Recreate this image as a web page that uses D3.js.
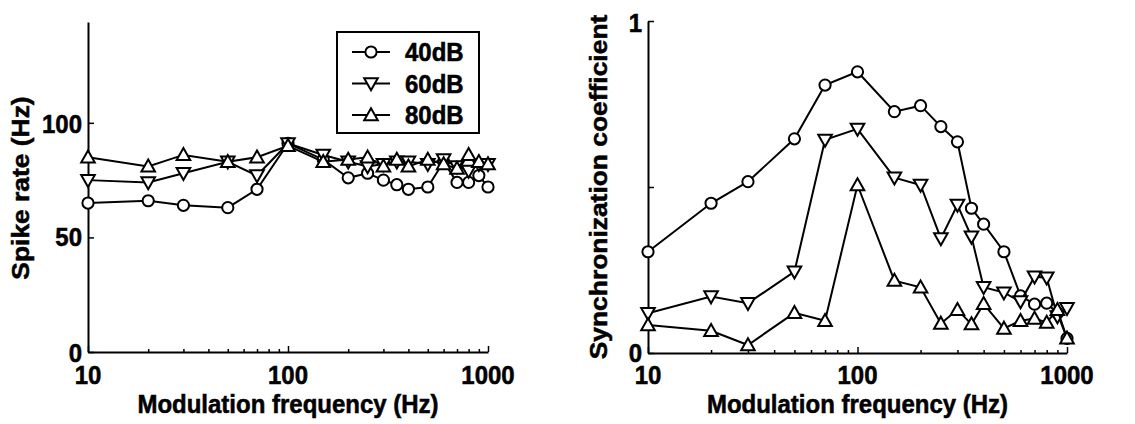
<!DOCTYPE html>
<html><head><meta charset="utf-8">
<script src="https://cdn.jsdelivr.net/npm/d3@7"></script>
<style>
html,body{margin:0;padding:0;background:#fff;}
svg text{font-family:"Liberation Sans",Arial,Helvetica,sans-serif;font-weight:bold;fill:#000;stroke:#000;stroke-width:0.5px;}
</style></head>
<body>
<svg id="c" width="1135" height="424"></svg>
<script>
const freqs = [10,20,30,50,70,100,150,200,250,300,350,400,500,600,700,800,900,1000];
const seriesNames = ["40dB","60dB","80dB"];
const rate40 = [65,66,64,63,71,91,84,76,78,75,73,71,72,83,74,74,77,72];
const rate60 = [75,74,78,83,77,91,86,83,81,82,83,83,82,84,81,79,82,82];
const rate80 = [85,81,86,83,85,90,83,84,85,81,84,81,84,82,80,86,83,82];
const sync40 = [0.305,0.451,0.516,0.645,0.807,0.847,0.727,0.745,0.682,0.636,0.436,0.388,0.305,0.172,0.147,0.150,0.12,0.044];
const sync60 = [0.12,0.17,0.15,0.245,0.642,0.675,0.528,0.506,0.345,0.446,0.35,0.198,0.182,0.155,0.23,0.227,0.11,0.135];
const sync80 = [0.084,0.067,0.024,0.121,0.097,0.506,0.218,0.198,0.089,0.13,0.087,0.148,0.074,0.097,0.104,0.092,0.13,0.044];
const xMajorTicks = [10,100,1000];
const xTickLabels = ["10","100","1000"];
const xMinorTicks = [20,30,40,50,60,70,80,90,200,300,400,500,600,700,800,900];
const rateTicks = [0,50,100];
const rateTickLabels = ["0","50","100"];
const syncTicks = [0,0.5,1];
const syncTickLabels = ["0","","1"];
const xTitle = "Modulation frequency (Hz)";
const rateTitle = "Spike rate (Hz)";
const syncTitle = "Synchronization coefficient";

const svg = d3.select("#c");
const SY = 1.1; // vertical stretch of text
const markers = ["circle","down","up"];

function markerPath(kind){
  if(kind==="up") return "M0,-6.8L6.8,5.2L-6.8,5.2Z";
  if(kind==="down") return "M0,6.8L6.8,-5.2L-6.8,-5.2Z";
  return null;
}
function drawMarker(g,kind,x,y){
  if(kind==="circle"){
    g.append("circle").attr("cx",x).attr("cy",y).attr("r",5.6)
     .attr("fill","#fff").attr("stroke","#000").attr("stroke-width",2);
  } else {
    g.append("path").attr("d",markerPath(kind)).attr("transform",`translate(${x},${y})`)
     .attr("fill","#fff").attr("stroke","#000").attr("stroke-width",2).attr("stroke-linejoin","miter");
  }
}
function hText(g,txt,x,y,anchor){
  g.append("text").attr("transform",`translate(${x},${y}) scale(1,${SY})`)
   .attr("text-anchor",anchor).attr("font-size",24).text(txt);
}

function panel(opt){
  const x = d3.scaleLog().domain([10,1000]).range([opt.x0,opt.x1]);
  const y = d3.scaleLinear().domain(opt.yDomain).range([opt.y0,opt.y1]);
  const g = svg.append("g");
  const ax = g.append("g").attr("transform",`translate(0,${opt.y0})`);
  ax.call(d3.axisBottom(x).tickValues(xMajorTicks).tickFormat("").tickSizeInner(-6).tickSizeOuter(0));
  const axm = g.append("g").attr("transform",`translate(0,${opt.y0})`);
  axm.call(d3.axisBottom(x).tickValues(xMinorTicks).tickFormat("").tickSizeInner(-3).tickSizeOuter(0));
  axm.select(".domain").remove();
  const ay = g.append("g").attr("transform",`translate(${opt.x0},0)`);
  ay.call(d3.axisLeft(y).tickValues(opt.yTicks).tickFormat("").tickSizeInner(-6).tickSizeOuter(0));
  g.selectAll(".domain").attr("stroke","#000").attr("stroke-width",2);
  g.selectAll(".tick line").attr("stroke","#000").attr("stroke-width",1.5);
  xMajorTicks.forEach((v,i)=>hText(g,xTickLabels[i],x(v),384,"middle"));
  opt.yTicks.forEach((v,i)=>{ if(opt.yLabels[i]) hText(g,opt.yLabels[i],opt.x0-6,y(v)+opt.labOff[i],"end"); });
  hText(g,xTitle,(opt.x0+opt.x1)/2,413,"middle");
  g.append("text").attr("transform",`translate(${opt.ytx},${opt.yty}) scale(1,${SY}) rotate(-90)`)
   .attr("text-anchor","middle").attr("font-size",24).text(opt.yTitle);
  const line = d3.line().x((d,i)=>x(freqs[i])).y(d=>y(d));
  opt.series.forEach((s,k)=>{
    g.append("path").attr("d",line(s)).attr("fill","none").attr("stroke","#000").attr("stroke-width",2);
    s.forEach((v,i)=>drawMarker(g,markers[k],x(freqs[i]),y(v)));
  });
  return g;
}

panel({x0:88,x1:488,y0:352,y1:22,yDomain:[0,144],yTicks:rateTicks,yLabels:rateTickLabels,labOff:[10,9,10],
  yTitle:rateTitle,ytx:29,yty:188,series:[rate40,rate60,rate80]});
panel({x0:648,x1:1067,y0:353,y1:21,yDomain:[0,1],yTicks:syncTicks,yLabels:syncTickLabels,labOff:[9,9,11],
  yTitle:syncTitle,ytx:607,yty:187,series:[sync40,sync60,sync80]});

const lg = svg.append("g");
lg.append("rect").attr("x",337).attr("y",32).attr("width",142).attr("height",101)
  .attr("fill","#fff").attr("stroke","#000").attr("stroke-width",2);
seriesNames.forEach((n,k)=>{
  const ly = 52 + k*31.5;
  lg.append("line").attr("x1",352).attr("x2",390).attr("y1",ly).attr("y2",ly).attr("stroke","#000").attr("stroke-width",2);
  drawMarker(lg,markers[k],371,ly);
  hText(lg,n,405,ly+9,"start");
});
</script>
</body></html>
